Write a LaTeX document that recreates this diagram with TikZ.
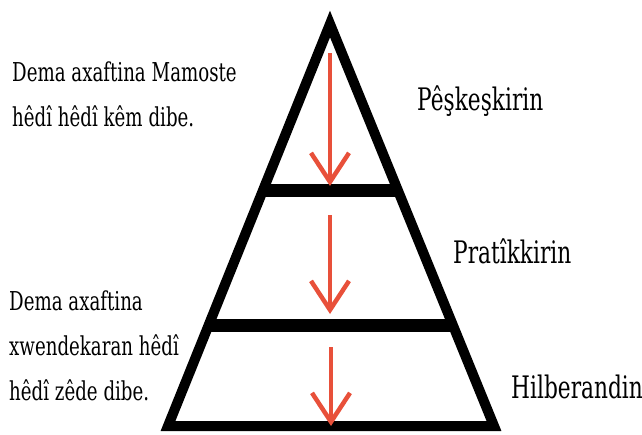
\documentclass[tikz,border=0pt]{standalone}
\usepackage{fontspec}
\setmainfont[FakeStretch=0.7]{DejaVu Serif}
\usepackage{xcolor}
\usetikzlibrary{arrows.meta, calc}

\definecolor{arrowred}{HTML}{E8503A}

\begin{document}
\begin{tikzpicture}[
x=1pt, y=-1pt,
edge/.style={line width=10pt, miter limit=10},
level/.style={line width=13pt},
flow/.style={
arrowred,
line width=4.5pt,
-{Straight Barb[length=29pt,width=38pt]}
},
note/.style={
anchor=base west,
inner sep=0pt,
align=left,
font=\fontsize{26}{45}\selectfont
},
stage/.style={
anchor=base west,
inner sep=0pt,
font=\fontsize{31}{36}\selectfont
}
]

\useasboundingbox (0,0) rectangle (642,434);

% pyramid
\coordinate (top) at (330,24);
\coordinate (bl) at (168,426);
\coordinate (br) at (494,426);

\draw[edge] (top) -- (bl) -- (br) -- cycle;

\coordinate (l1) at ($(top)!0.415!(bl)$);
\coordinate (r1) at ($(top)!0.415!(br)$);
\coordinate (l2) at ($(top)!0.751!(bl)$);
\coordinate (r2) at ($(top)!0.751!(br)$);

\draw[level] (l1) -- (r1);
\draw[level] (l2) -- (r2);

% arrows
\coordinate (a1s) at (330,53);
\coordinate (a1e) at (330,186);
\coordinate (a2s) at (330,215);
\coordinate (a2e) at (330,314);
\coordinate (a3s) at (331,347);
\coordinate (a3e) at (331,426);

\draw[flow] (a1s) -- (a1e);
\draw[flow] (a2s) -- (a2e);
\draw[flow] (a3s) -- (a3e);

% labels
\node[stage] (present) at (417,110) {Pêşkeşkirin};
\node[stage] (practice) at (453,263) {Pratîkkirin};
\node[stage] (produce) at (511,398) {Hilberandin};

% base anchor sits on the last line
\node[note] (teacher) at (12,126)
{Dema axaftina Mamoste\\hêdî hêdî kêm dibe.};

\node[note] (student) at (9,400)
{Dema axaftina\\xwendekaran hêdî\\hêdî zêde dibe.};

\end{tikzpicture}
\end{document}
